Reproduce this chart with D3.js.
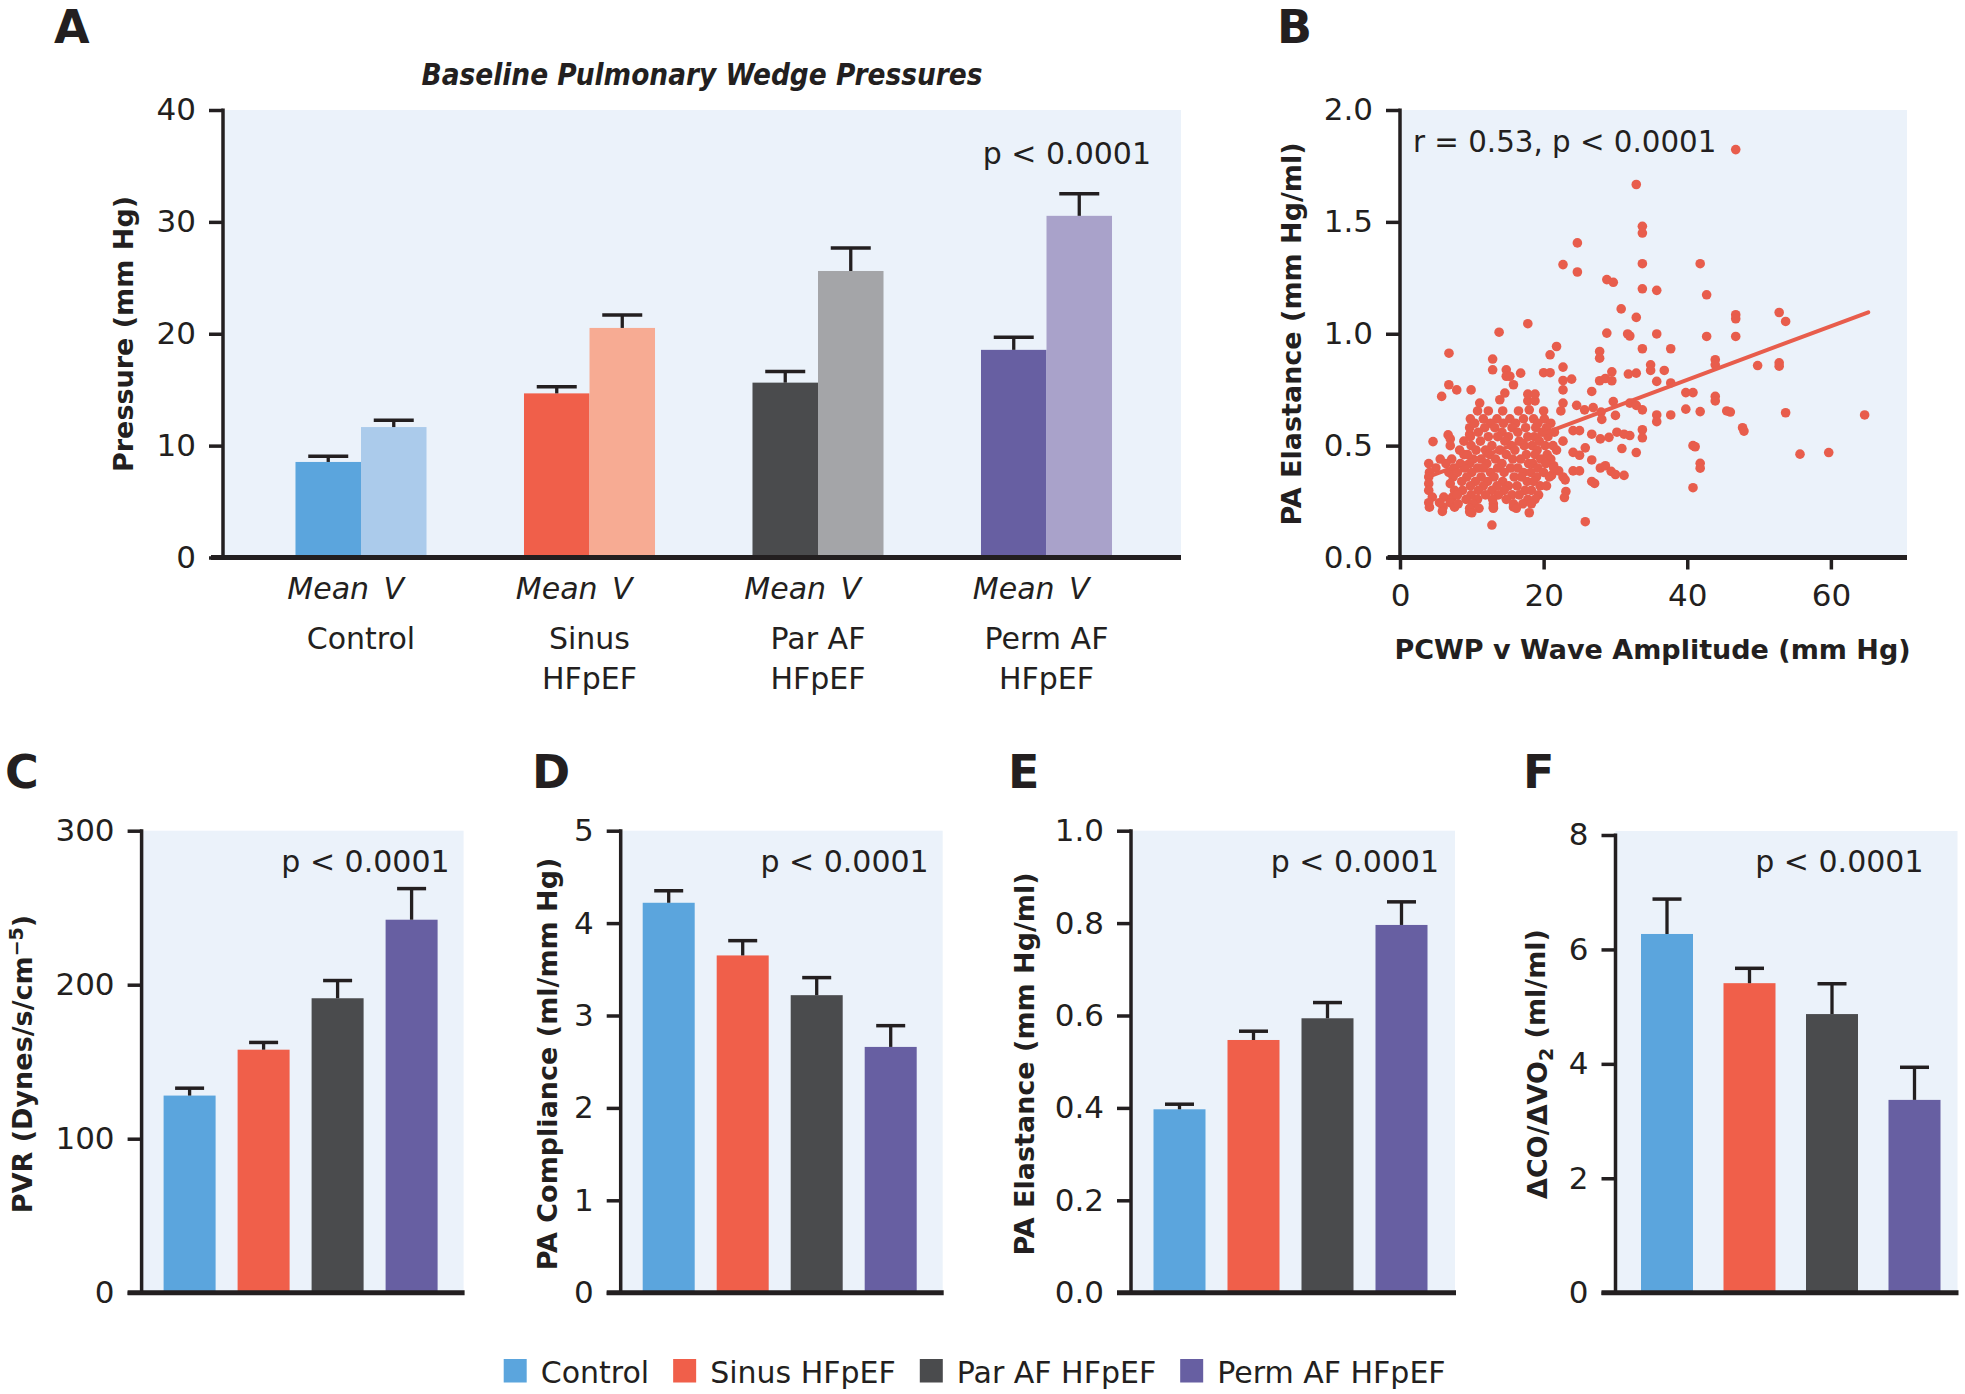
<!DOCTYPE html>
<html><head><meta charset="utf-8">
<script src="https://cdn.jsdelivr.net/npm/d3@7"></script>
<style>
body{margin:0;background:#fff}
svg{display:block}
text{font-family:"DejaVu Sans",sans-serif;fill:#231F20}
</style>
</head><body>
<svg id="chart" width="1965" height="1394"></svg>
<script>
// ---------- DATA ----------
const groups = ["Control", "Sinus HFpEF", "Par AF HFpEF", "Perm AF HFpEF"];
const groupLabelLines = [["Control"], ["Sinus", "HFpEF"], ["Par AF", "HFpEF"], ["Perm AF", "HFpEF"]];
const measures = ["Mean", "V"];
const darkColors = ["#5BA5DD", "#F05F4A", "#4A4B4D", "#675FA2"];
const lightColors = ["#ABCBEB", "#F7AB93", "#A4A5A8", "#A9A2CA"];

// Panel A: baseline pulmonary wedge pressures (mm Hg)
const wedgeMean = [8.54, 14.67, 15.63, 18.56];
const wedgeMeanSem = [0.52, 0.60, 1.00, 1.12];
const wedgeV = [11.66, 20.52, 25.61, 30.54];
const wedgeVSem = [0.60, 1.16, 2.05, 1.97];
const wedgeTicks = [0, 10, 20, 30, 40];

// Panel B: PCWP v wave amplitude (mm Hg) vs PA elastance (mm Hg/ml)
const scatterPts = [
[46.75,1.823],[32.9,1.667],[33.75,1.48],[33.75,1.45],[24.7,1.406],[22.7,1.309],[24.7,1.276],[33.75,1.313],[41.8,1.313],[28.8,1.242],[29.7,1.23],[33.75,1.201],[35.75,1.194],[42.7,1.174],[30.8,1.111],[32.9,1.073],[46.75,1.085],[46.75,1.067],[52.8,1.095],[53.7,1.055],
[35.75,0.999],[42.7,0.988],[46.75,0.988],[32.0,0.99],[33.75,0.933],[37.7,0.933],[34.9,0.861],[34.9,0.836],[32.9,0.824],[36.8,0.836],[35.75,0.787],[37.7,0.78],[43.9,0.884],[43.9,0.861],[49.8,0.858],[52.8,0.87],[52.8,0.855],[39.8,0.737],[40.8,0.737],[43.9,0.72],[43.9,0.70],[32.0,0.69],[32.9,0.68],[33.75,0.66],[39.8,0.663],[41.8,0.652],[37.7,0.637],[35.75,0.637],[35.75,0.607],[45.5,0.655],[46.0,0.65],[53.7,0.647],[64.7,0.637],[47.7,0.58],[47.9,0.565],[33.75,0.571],[33.75,0.535],[32.0,0.545],[32.9,0.469],[40.8,0.50],[41.1,0.495],[41.8,0.421],[41.8,0.399],[40.8,0.312],[55.7,0.462],[59.7,0.469],
[6.82,0.913],[13.8,1.007],[17.8,1.045],[28.8,1.003],[31.7,0.999],[21.8,0.943],[20.9,0.906],[27.8,0.921],[27.8,0.891],[12.9,0.887],[12.9,0.839],[14.8,0.839],[14.8,0.81],[15.3,0.81],[16.8,0.824],[20.0,0.826],[20.9,0.826],[22.7,0.851],[23.9,0.797],[22.7,0.791],[22.7,0.749],[15.8,0.772],[6.8,0.772],[7.9,0.749],[9.9,0.749],[5.8,0.72],[17.8,0.70],[18.8,0.70],[17.8,0.73],[18.8,0.73],[26.7,0.742],[27.8,0.79],[28.6,0.80],[29.5,0.83],[29.5,0.79],[31.8,0.82],[29.7,0.697],[11.1,0.69],[13.9,0.705],[14.6,0.735],[22.7,0.69],[24.6,0.68],
[10.8,0.655],[12.3,0.655],[14.3,0.655],[16.5,0.655],[18.0,0.66],[20.0,0.655],[22.4,0.655],[25.7,0.66],[26.9,0.67],[28.0,0.65],
[30.0,0.635],[28.1,0.617],[24.1,0.567],[25.0,0.567],[26.7,0.551],[27.9,0.53],[29.1,0.537],[30.2,0.56],[31.2,0.551],[22.7,0.52],[21.8,0.48],[24.1,0.47],[25.8,0.49],[25.0,0.457],[30.9,0.487],[26.7,0.436],[27.9,0.40],[28.6,0.41],[29.4,0.385],[30.0,0.371],[31.2,0.367],[21.4,0.41],[22.1,0.387],[24.1,0.387],[25.0,0.387],[21.1,0.367],[22.7,0.36],[23.0,0.347],[26.7,0.34],[27.1,0.331],[23.1,0.295],[22.9,0.268],[25.8,0.16],
[4.6,0.518],[6.7,0.548],[7.0,0.53],[9.7,0.55],[9.7,0.58],[6.0,0.226],[9.7,0.204],[13.0,0.226],[15.8,0.226],[12.8,0.145],[5.9,0.206],
[5.6,0.44],[7.2,0.44],[4.0,0.42],[6.4,0.42],[5.0,0.40],[7.5,0.40],[4.1,0.38],[6.8,0.38],[4.0,0.36],[7.4,0.36],[4.0,0.33],[7.0,0.33],[4.0,0.30],[7.6,0.30],[4.5,0.27],[6.1,0.27],[7.3,0.27],[4.0,0.245],[5.5,0.245],[7.0,0.245],[4.1,0.225],[7.6,0.225],
[9.8,0.62],[11.6,0.62],[13.5,0.62],[15.3,0.62],[17.2,0.62],[18.6,0.62],[20.1,0.62],
[10.4,0.60],[12.6,0.60],[14.4,0.60],[16.1,0.60],[19.2,0.60],[21.0,0.60],
[11.8,0.58],[13.2,0.58],[15.6,0.58],[17.5,0.58],[18.9,0.58],[20.4,0.58],
[10.9,0.56],[14.2,0.56],[16.4,0.56],[19.8,0.56],[21.5,0.56],
[9.8,0.54],[12.3,0.54],[13.6,0.54],[15.1,0.54],[17.8,0.54],[18.7,0.54],[20.6,0.54],
[8.9,0.52],[11.2,0.52],[14.6,0.52],[16.6,0.52],[19.4,0.52],
[7.0,0.50],[9.9,0.50],[12.8,0.50],[15.5,0.50],[17.3,0.50],[18.4,0.50],[20.2,0.50],[21.3,0.50],
[8.3,0.48],[10.6,0.48],[11.9,0.48],[13.9,0.48],[16.0,0.48],[19.1,0.48],
[8.9,0.46],[9.4,0.46],[12.5,0.46],[14.8,0.46],[17.6,0.46],[18.8,0.46],[20.5,0.46],
[10.2,0.44],[11.3,0.44],[13.3,0.44],[15.7,0.44],[16.8,0.44],[19.6,0.44],[21.0,0.44],
[8.4,0.42],[9.7,0.42],[12.1,0.42],[14.2,0.42],[17.9,0.42],[18.5,0.42],[20.3,0.42],
[9.0,0.40],[10.8,0.40],[11.6,0.40],[13.6,0.40],[15.4,0.40],[16.4,0.40],[19.2,0.40],[21.4,0.40],
[8.0,0.38],[10.0,0.38],[12.6,0.38],[14.5,0.38],[17.2,0.38],[18.2,0.38],[20.0,0.38],
[9.3,0.36],[11.3,0.36],[13.1,0.36],[15.9,0.36],[16.9,0.36],[19.0,0.36],[20.8,0.36],
[8.6,0.34],[10.5,0.34],[12.2,0.34],[14.3,0.34],[17.7,0.34],[18.6,0.34],
[9.8,0.32],[11.6,0.32],[13.5,0.32],[15.1,0.32],[16.3,0.32],[19.5,0.32],[20.4,0.32],
[8.7,0.30],[10.9,0.30],[12.8,0.30],[14.5,0.30],[17.4,0.30],[18.3,0.30],
[8.0,0.28],[9.9,0.28],[11.9,0.28],[13.7,0.28],[15.6,0.28],[16.6,0.28],[19.3,0.28],
[9.2,0.26],[10.8,0.26],[12.9,0.26],[14.8,0.26],[17.8,0.26],[18.8,0.26],
[8.1,0.24],[10.1,0.24],[13.0,0.24],[15.8,0.24],[17.1,0.24],[18.3,0.24],
[9.7,0.22],[11.0,0.22],[13.0,0.22],[16.2,0.22],
[10.0,0.20],[18.0,0.20]
];
const regX = [4, 65.2];
const regY = [0.362, 1.096];
const scatterXTicks = [0, 20, 40, 60];
const scatterYTicks = [0, 0.5, 1.0, 1.5, 2.0];

// Panels C-F
const pvr = [128, 157.8, 191.2, 242.2];
const pvrSem = [4.8, 4.7, 11.5, 20.2];
const pvrTicks = [0, 100, 200, 300];
const compliance = [4.22, 3.65, 3.22, 2.66];
const complianceSem = [0.13, 0.16, 0.19, 0.23];
const complianceTicks = [0, 1, 2, 3, 4, 5];
const elastance = [0.397, 0.547, 0.594, 0.796];
const elastanceSem = [0.011, 0.019, 0.034, 0.050];
const elastanceTicks = [0, 0.2, 0.4, 0.6, 0.8, 1.0];
const coRatio = [6.27, 5.41, 4.87, 3.37];
const coRatioSem = [0.61, 0.26, 0.53, 0.57];
const coRatioTicks = [0, 2, 4, 6, 8];

// ---------- DRAWING ----------
const INK = "#231F20", BG = "#EBF2FA", DOT = "#E85D4C";
const svg = d3.select("#chart");

function yAxis(scale, x0, ticks, fmt) {
  const g = svg.append("g").attr("transform", `translate(${x0},0)`)
    .call(d3.axisLeft(scale).tickValues(ticks).tickFormat(fmt).tickSize(14).tickPadding(13));
  g.select(".domain").remove();
  g.selectAll(".tick line").attr("stroke", INK).attr("stroke-width", 3.5);
  g.selectAll(".tick text").attr("font-size", 31).attr("font-family", "DejaVu Sans").attr("fill", INK);
  const d = scale.domain();
  svg.append("line").attr("x1", x0).attr("x2", x0).attr("y1", scale(d[1]) - 1.5).attr("y2", scale(0) + 2)
    .attr("stroke", INK).attr("stroke-width", 3.5);
}
function xLine(x1, x2, y) {
  svg.append("line").attr("x1", x1).attr("x2", x2).attr("y1", y).attr("y2", y)
    .attr("stroke", INK).attr("stroke-width", 5);
}
function errBar(cx, yVal, yTop, capW) {
  svg.append("line").attr("x1", cx).attr("x2", cx).attr("y1", yVal).attr("y2", yTop)
    .attr("stroke", INK).attr("stroke-width", 3.3);
  svg.append("line").attr("x1", cx - capW / 2).attr("x2", cx + capW / 2).attr("y1", yTop).attr("y2", yTop)
    .attr("stroke", INK).attr("stroke-width", 3.5);
}
function panelLetter(t, x, y) {
  svg.append("text").attr("x", x).attr("y", y).attr("font-size", 46).attr("font-weight", "bold").text(t);
}
function rotTitle(x, cy, parts) {
  const t = svg.append("text").attr("transform", `translate(${x},${cy}) rotate(-90)`)
    .attr("text-anchor", "middle").attr("font-size", 27).attr("font-weight", "bold");
  parts.forEach(p => {
    const ts = t.append("tspan").text(p.t);
    if (p.fs) ts.attr("font-size", p.fs);
    if (p.dy) ts.attr("dy", p.dy);
  });
}

// ---- Panel A ----
{
  const y = d3.scaleLinear().domain([0, 40]).range([557.5, 110]);
  const xg = d3.scaleBand().domain(groups).range([246.75, 1160.75]);
  const xm = d3.scaleBand().domain(measures).range([0, xg.bandwidth()]).paddingInner(0).paddingOuter(0.744);
  svg.append("rect").attr("x", 223).attr("y", 110).attr("width", 1181 - 223).attr("height", 557.5 - 110).attr("fill", BG);
  groups.forEach((gname, i) => {
    const sets = [[wedgeMean[i], wedgeMeanSem[i], darkColors[i], "Mean"], [wedgeV[i], wedgeVSem[i], lightColors[i], "V"]];
    sets.forEach(([v, s, c, m]) => {
      const bx = xg(gname) + xm(m);
      svg.append("rect").attr("x", bx).attr("y", y(v)).attr("width", xm.bandwidth()).attr("height", y(0) - y(v)).attr("fill", c);
      errBar(bx + xm.bandwidth() / 2, y(v), y(v + s), 40);
      svg.append("text").attr("x", bx + xm.bandwidth() / 2).attr("y", 599).attr("text-anchor", "middle")
        .attr("font-size", 30).attr("font-style", "italic").text(m);
    });
    groupLabelLines[i].forEach((ln, k) => {
      svg.append("text").attr("x", xg(gname) + xg.bandwidth() / 2).attr("y", 649 + k * 40)
        .attr("text-anchor", "middle").attr("font-size", 30).text(ln);
    });
  });
  yAxis(y, 223, wedgeTicks, d => d);
  xLine(211, 1181, 557.5);
  svg.append("text").attr("x", 702).attr("y", 85).attr("text-anchor", "middle").attr("font-size", 30)
    .attr("textLength", 561).attr("lengthAdjust", "spacingAndGlyphs")
    .attr("font-weight", "bold").attr("font-style", "italic").text("Baseline Pulmonary Wedge Pressures");
  svg.append("text").attr("x", 1151).attr("y", 164).attr("text-anchor", "end").attr("font-size", 30).text("p < 0.0001");
  rotTitle(133, 334, [{t: "Pressure (mm Hg)"}]);
  panelLetter("A", 54, 43);
}

// ---- Panel B ----
{
  const x = d3.scaleLinear().domain([0, 70.6]).range([1400, 1907]);
  const y = d3.scaleLinear().domain([0, 2]).range([557.5, 110]);
  svg.append("rect").attr("x", 1400).attr("y", 110).attr("width", 1907 - 1400).attr("height", 557.5 - 110).attr("fill", BG);
  svg.append("g").selectAll("circle").data(scatterPts).join("circle")
    .attr("cx", d => x(d[0])).attr("cy", d => y(d[1])).attr("r", 4.8).attr("fill", DOT);
  svg.append("line").attr("x1", x(regX[0])).attr("y1", y(regY[0])).attr("x2", x(regX[1])).attr("y2", y(regY[1]))
    .attr("stroke", DOT).attr("stroke-width", 4).attr("stroke-linecap", "round");
  yAxis(y, 1400, scatterYTicks, d3.format(".1f"));
  const gx = svg.append("g").attr("transform", "translate(0,557.5)")
    .call(d3.axisBottom(x).tickValues(scatterXTicks).tickSize(12).tickPadding(14));
  gx.select(".domain").remove();
  gx.selectAll(".tick line").attr("stroke", INK).attr("stroke-width", 3.5);
  gx.selectAll(".tick text").attr("font-size", 31).attr("font-family", "DejaVu Sans").attr("fill", INK);
  xLine(1387.6, 1907, 557.5);
  svg.append("text").attr("x", 1413).attr("y", 152).attr("font-size", 29.3).text("r = 0.53, p < 0.0001");
  svg.append("text").attr("x", 1652.5).attr("y", 659).attr("text-anchor", "middle").attr("font-size", 27)
    .attr("font-weight", "bold").text("PCWP v Wave Amplitude (mm Hg)");
  rotTitle(1301, 334, [{t: "PA Elastance (mm Hg/ml)"}]);
  panelLetter("B", 1277, 43);
}

// ---- Panels C-F ----
const lowerPanels = [
  {letter: "C", lx: 5, x0: 141.6, vals: pvr, sems: pvrSem, ticks: pvrTicks, max: 300, fmt: d => d, top: 830.7, bgTop: 830.7, step: 74, off: 22, right: 322,
   titleX: 32, title: [{t: "PVR (Dynes/s/cm"}, {t: "\u22125", fs: 19, dy: "-0.5em"}, {t: ")", dy: "0.35em"}]},
  {letter: "D", lx: 532, x0: 620.7, vals: compliance, sems: complianceSem, ticks: complianceTicks, max: 5, fmt: d => d, top: 830.7, bgTop: 830.7, step: 74, off: 22, right: 322,
   titleX: 557, title: [{t: "PA Compliance (ml/mm Hg)"}]},
  {letter: "E", lx: 1008, x0: 1131, vals: elastance, sems: elastanceSem, ticks: elastanceTicks, max: 1.0, fmt: d3.format(".1f"), top: 830.7, bgTop: 830.7, step: 74, off: 22.5, right: 324,
   titleX: 1034, title: [{t: "PA Elastance (mm Hg/ml)"}]},
  {letter: "F", lx: 1523, x0: 1615.5, vals: coRatio, sems: coRatioSem, ticks: coRatioTicks, max: 8, fmt: d => d, top: 835, bgTop: 831, step: 82.5, off: 25.5, right: 342,
   titleX: 1547, title: [{t: "\u0394CO/\u0394VO"}, {t: "2", fs: 19, dy: "0.3em"}, {t: " (ml/ml)", dy: "-0.3em"}]}
];
const ZERO = 1292.7;
lowerPanels.forEach(p => {
  const y = d3.scaleLinear().domain([0, p.max]).range([ZERO, p.top]);
  const a = p.x0 + p.off - (p.step - 52) / 2;
  const x = d3.scaleBand().domain(groups).range([a, a + 4 * p.step])
    .paddingInner((p.step - 52) / p.step).paddingOuter((p.step - 52) / p.step / 2);
  svg.append("rect").attr("x", p.x0).attr("y", p.bgTop).attr("width", p.right).attr("height", ZERO - p.bgTop).attr("fill", BG);
  groups.forEach((gname, i) => {
    const v = p.vals[i];
    svg.append("rect").attr("x", x(gname)).attr("y", y(v)).attr("width", x.bandwidth()).attr("height", ZERO - y(v)).attr("fill", darkColors[i]);
    errBar(x(gname) + x.bandwidth() / 2, y(v), y(v + p.sems[i]), 29);
  });
  yAxis(y, p.x0, p.ticks, p.fmt);
  xLine(p.x0 - 14, p.x0 + p.right + 1, ZERO);
  svg.append("text").attr("x", p.x0 + 308).attr("y", 872).attr("text-anchor", "end").attr("font-size", 30).text("p < 0.0001");
  rotTitle(p.titleX, 1064, p.title);
  panelLetter(p.letter, p.lx, 788);
});

// ---- Legend ----
{
  let lx = 503.7;
  groups.forEach((gname, i) => {
    svg.append("rect").attr("x", lx).attr("y", 1359).attr("width", 23).attr("height", 23.5).attr("fill", darkColors[i]);
    const t = svg.append("text").attr("x", lx + 37).attr("y", 1382.5).attr("font-size", 30).text(gname);
    lx += 37 + t.node().getComputedTextLength() + 24;
  });
}
</script>
</body></html>
